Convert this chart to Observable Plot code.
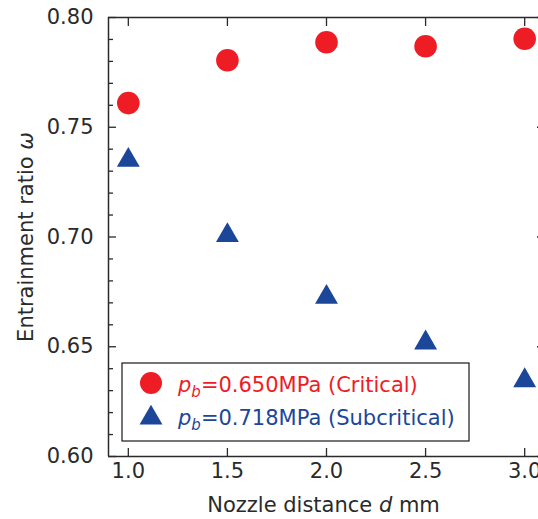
<!DOCTYPE html>
<html>
<head>
<meta charset="utf-8">
<script src="https://cdn.jsdelivr.net/npm/d3@7"></script>
<script src="https://cdn.jsdelivr.net/npm/@observablehq/plot@0.6"></script>
<style>
  body { margin: 0; background: #fff; }
  #chart { position: relative; width: 538px; height: 519px; overflow: hidden; }
</style>
</head>
<body>
<div id="chart"></div>
<script>
// Nozzle distance d (mm)
const distance = [1.0, 1.5, 2.0, 2.5, 3.0];
// Entrainment ratio ω at back pressure 0.650 MPa (critical mode)
const omegaCritical = [0.761, 0.7805, 0.7887, 0.7869, 0.7903];
// Entrainment ratio ω at back pressure 0.718 MPa (subcritical mode)
const omegaSubcritical = [0.735, 0.7007, 0.6726, 0.6518, 0.6346];

const xTicks = [1.0, 1.5, 2.0, 2.5, 3.0];
const yTicks = [0.60, 0.65, 0.70, 0.75, 0.80];
const yMinorTicks = [0.61, 0.62, 0.63, 0.64, 0.66, 0.67, 0.68, 0.69,
                     0.71, 0.72, 0.73, 0.74, 0.76, 0.77, 0.78, 0.79];
const xDomain = [0.9, 3.1];
const yDomain = [0.60, 0.80];

const seriesPressure = ["0.650MPa (Critical)", "0.718MPa (Subcritical)"];

const red = "#ee1d25";
const blue = "#1b4699";
const ink = "#2a2a2a";
const font = "'DejaVu Sans', sans-serif";

const critical = distance.map((d, i) => ({d, w: omegaCritical[i]}));
const subcritical = distance.map((d, i) => ({d, w: omegaSubcritical[i]}));

const plot = Plot.plot({
  width: 538,
  height: 519,
  marginLeft: 108,
  marginRight: 0,
  marginTop: 17,
  marginBottom: 63,
  style: {fontFamily: font, fontSize: "21px", color: ink, background: "#fff", overflow: "hidden"},
  x: {domain: xDomain, range: [108, 544]},
  y: {domain: yDomain, range: [456, 17]},
  marks: [
    // tick labels and axis titles
    Plot.axisY(yTicks, {tickSize: 0, tickPadding: 15, tickFormat: d3.format(".2f"),
      label: "Entrainment ratio ω", labelAnchor: "center", labelOffset: 90}),
    Plot.axisX(xTicks, {tickSize: 0, tickPadding: 7, tickFormat: d3.format(".1f"),
      label: "Nozzle distance d mm", labelAnchor: "center", labelOffset: 55}),
    // inward-pointing ticks on all sides of the frame
    Plot.axisY(yTicks, {tickSize: -8, fill: "none", label: null, strokeWidth: 1.3}),
    Plot.axisY(yMinorTicks, {tickSize: -5, fill: "none", label: null, strokeWidth: 1.3}),
    Plot.axisY(yTicks, {anchor: "right", tickSize: -8, dx: 6, fill: "none", label: null, strokeWidth: 1.3}),
    Plot.axisX(xTicks, {tickSize: -8, fill: "none", label: null, strokeWidth: 1.3}),
    Plot.axisX(xTicks, {anchor: "top", tickSize: -8, fill: "none", label: null, strokeWidth: 1.3}),
    // frame
    Plot.ruleX(xDomain, {stroke: ink, strokeWidth: 1.5}),
    Plot.ruleY(yDomain, {stroke: ink, strokeWidth: 1.5}),
    // data
    Plot.dot(critical, {x: "d", y: "w", r: 11.3, fill: red, stroke: "none"}),
    Plot.dot(subcritical, {x: "d", y: "w", r: 8.5, symbol: "triangle", fill: blue, stroke: "none"})
  ]
});

document.getElementById("chart").appendChild(plot);

const svg = d3.select(plot);

// axis titles with italic symbols
function styledLabel(ariaLabel, parts) {
  const t = svg.select(`g[aria-label="${ariaLabel}"] text`);
  t.text(null);
  for (const [txt, italic] of parts) {
    const s = t.append("tspan").text(txt);
    if (italic) s.attr("font-style", "italic");
  }
}
styledLabel("y-axis label", [["Entrainment ratio ", false], ["ω", true]]);
styledLabel("x-axis label", [["Nozzle distance ", false], ["d", true], [" mm", false]]);

// legend
const legend = svg.append("g")
  .attr("font-family", font).attr("font-size", 21).attr("text-anchor", "start");
legend.append("rect")
  .attr("x", 122).attr("y", 363).attr("width", 347).attr("height", 78)
  .attr("fill", "#fff").attr("stroke", ink).attr("stroke-width", 1.3);

const entries = [
  {color: red, symbol: d3.symbolCircle, size: Math.PI * 11 * 11, cy: 383, base: 391.5, text: seriesPressure[0]},
  {color: blue, symbol: d3.symbolTriangle, size: Math.PI * 8.5 * 8.5, cy: 418, base: 425, text: seriesPressure[1]}
];
for (const e of entries) {
  legend.append("path")
    .attr("d", d3.symbol(e.symbol, e.size)())
    .attr("transform", `translate(151,${e.cy})`)
    .attr("fill", e.color);
  const t = legend.append("text")
    .attr("x", 178).attr("y", e.base).attr("fill", e.color).attr("text-anchor", "start");
  t.append("tspan").attr("font-style", "italic").text("p");
  t.append("tspan").attr("font-style", "italic").attr("font-size", 15).attr("dy", 5).text("b");
  t.append("tspan").attr("dy", -5).text("=" + e.text);
}
</script>
</body>
</html>
